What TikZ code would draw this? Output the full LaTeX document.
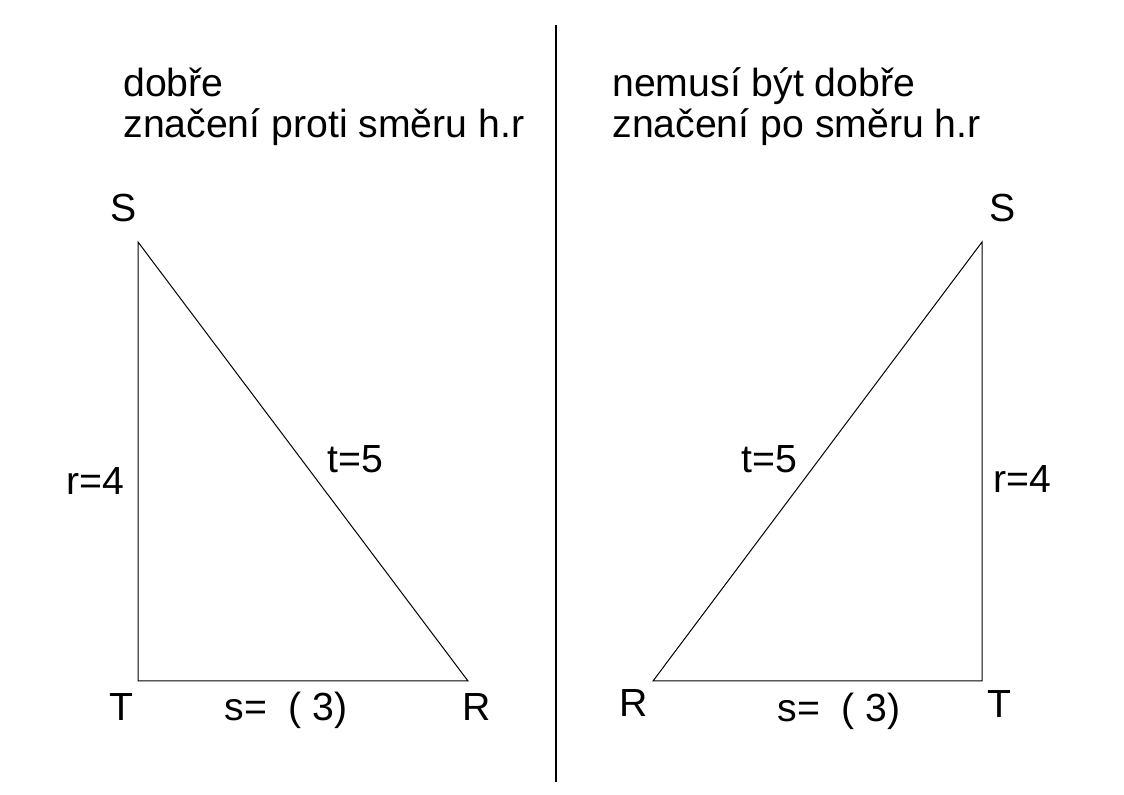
\documentclass[tikz,border=0pt]{standalone}
\usepackage{fontspec}
\setmainfont{Liberation Sans}
\usetikzlibrary{positioning}
\tikzset{
    caption/.style={
        anchor=base west, inner sep=0pt,
        font=\fontsize{19.6pt}{21pt}\selectfont
    },
    vertex/.style={
        anchor=base, inner sep=0pt,
        font=\fontsize{19.6pt}{21pt}\selectfont
    },
    side/.style={draw=black, line width=0.5pt},
    divider/.style={draw=black, line width=0.6pt}
}

\begin{document}
\begin{tikzpicture}[x=0.5pt, y=-0.5pt]

\useasboundingbox (0,0) rectangle (1124,795);

% Divider
\coordinate (dtop) at (556,25);
\coordinate (dbot) at (556,782);
\draw[divider] (dtop) -- (dbot);

% Captions
\node[caption] (okA) at (123,97) {dobře};
\node[caption] (okB) at (123,138) {značení proti směru h.r};
\node[caption] (maybeA) at (612,97) {nemusí být dobře};
\node[caption] (maybeB) at (612,138) {značení po směru h.r};

% Left triangle
\coordinate (lS) at (138,242);
\coordinate (lT) at (138,681);
\coordinate (lR) at (468,681);
\draw[side] (lS) -- (lT) -- (lR) -- cycle;

\node[vertex] (lSlab) at (124,222) {S};
\node[vertex] (lTlab) at (121,720) {T};
\node[vertex] (lRlab) at (477,720) {R};
\node[vertex] (ls) at (286,720) {s=~~(~3)};
\node[vertex] (lr) at (95,495) {r=4};
\node[vertex] (lt) at (355,473) {t=5};

% Right triangle
\coordinate (rS) at (982,242);
\coordinate (rT) at (982,681);
\coordinate (rR) at (653,681);
\draw[side] (rS) -- (rT) -- (rR) -- cycle;

\node[vertex] (rSlab) at (1003,222) {S};
\node[vertex] (rTlab) at (999,718) {T};
\node[vertex] (rRlab) at (634,717) {R};
\node[vertex] (rs) at (839,722) {s=~~(~3)};
\node[vertex] (rr) at (1022,493) {r=4};
\node[vertex] (rt) at (769,473) {t=5};

\end{tikzpicture}
\end{document}
